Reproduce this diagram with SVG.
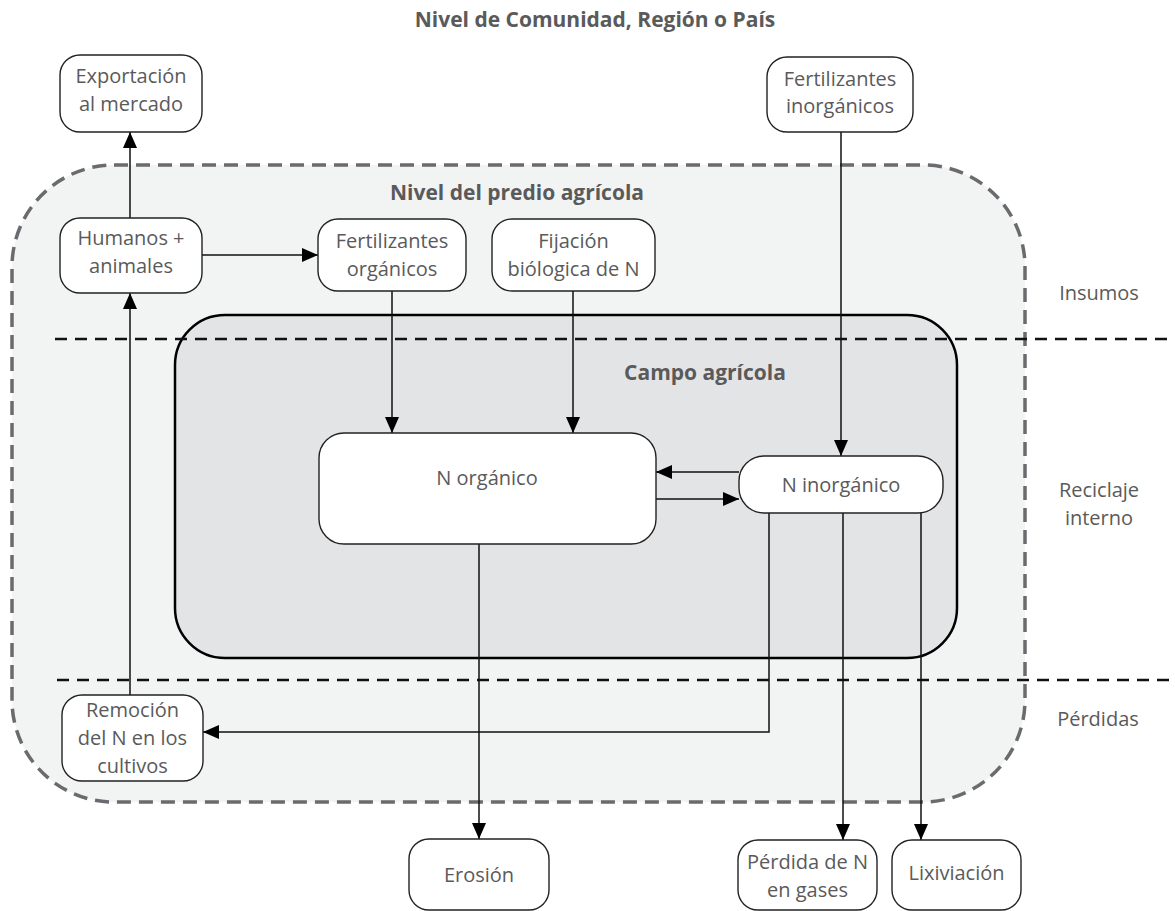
<svg xmlns="http://www.w3.org/2000/svg" width="1175" height="911" viewBox="0 0 1175 911">
<defs>
<marker id="ah" markerUnits="userSpaceOnUse" markerWidth="16" markerHeight="14" viewBox="0 0 16 14" refX="16" refY="7" orient="auto">
<path d="M0,0 L16,7 L0,14 Z" fill="#000"/>
</marker>
<style>
.t{font-family:"Open Sans","Liberation Sans",sans-serif;font-size:20px;fill:#5a5a5a;text-anchor:middle}
.b{font-family:"Open Sans","Liberation Sans",sans-serif;font-size:21px;font-weight:bold;fill:#5a5a5a;text-anchor:middle}
.n{fill:#fff;stroke:#222;stroke-width:1.4}
.c{fill:none;stroke:#111;stroke-width:1.5}
.a{marker-end:url(#ah)}
.h{stroke:#111;stroke-width:2.5;stroke-dasharray:12 8;fill:none}
</style>
</defs>
<text class="b" x="595" y="27">Nivel de Comunidad, Región o País</text>
<g id="farm">
<rect x="12" y="165" width="1013" height="637" rx="102" ry="102" fill="#f2f3f3" stroke="#6b6b6f" stroke-width="3.5" stroke-dasharray="14 8"/>
<text class="b" x="517" y="200">Nivel del predio agrícola</text>
</g>
<g id="field">
<rect x="175" y="315" width="782" height="343" rx="50" ry="50" fill="#e3e4e6" stroke="#000" stroke-width="2.5"/>
<text class="b" x="705" y="380">Campo agrícola</text>
</g>
<g id="bands">
<line class="h" x1="55" y1="339" x2="1175" y2="339"/>
<line class="h" x1="57" y1="680" x2="1175" y2="680"/>
<text class="t" x="1099" y="300">Insumos</text>
<text class="t" x="1099" y="497">Reciclaje</text>
<text class="t" x="1099" y="525">interno</text>
<text class="t" x="1098" y="726">Pérdidas</text>
</g>
<g id="connectors">
<line class="c a" x1="130" y1="218" x2="130" y2="132"/>
<line class="c a" x1="202" y1="255" x2="318" y2="255"/>
<line class="c a" x1="130" y1="695" x2="130" y2="293"/>
<line class="c a" x1="392" y1="291" x2="392" y2="433"/>
<line class="c a" x1="573" y1="291" x2="573" y2="433"/>
<line class="c a" x1="841" y1="132" x2="841" y2="456"/>
<line class="c a" x1="739" y1="472" x2="656" y2="472"/>
<line class="c a" x1="656" y1="499" x2="739" y2="499"/>
<line class="c a" x1="479" y1="544" x2="479" y2="839"/>
<polyline class="c a" points="769,513 769,732 203,732"/>
<line class="c a" x1="843" y1="513" x2="843" y2="840"/>
<line class="c a" x1="921" y1="513" x2="921" y2="840"/>
</g>
<g id="export">
<rect class="n" x="60" y="55" width="142" height="77" rx="20"/>
<text class="t" x="131" y="83">Exportación</text>
<text class="t" x="131" y="111">al mercado</text>
</g>
<g id="humans">
<rect class="n" x="60" y="218" width="142" height="75" rx="20"/>
<text class="t" x="131" y="245">Humanos +</text>
<text class="t" x="131" y="273">animales</text>
</g>
<g id="fert-org">
<rect class="n" x="318" y="219" width="148" height="72" rx="20"/>
<text class="t" x="392" y="248">Fertilizantes</text>
<text class="t" x="392" y="276">orgánicos</text>
</g>
<g id="fixation">
<rect class="n" x="492" y="219" width="163" height="72" rx="20"/>
<text class="t" x="573.5" y="248">Fijación</text>
<text class="t" x="573.5" y="276">biólogica de N</text>
</g>
<g id="fert-inorg">
<rect class="n" x="767" y="57" width="146" height="75" rx="20"/>
<text class="t" x="840" y="86">Fertilizantes</text>
<text class="t" x="840" y="113">inorgánicos</text>
</g>
<g id="n-org">
<rect class="n" x="319" y="433" width="337" height="111" rx="25"/>
<text class="t" x="487" y="485">N orgánico</text>
</g>
<g id="n-inorg">
<rect class="n" x="739" y="456" width="204" height="57" rx="25"/>
<text class="t" x="841" y="492">N inorgánico</text>
</g>
<g id="removal">
<rect class="n" x="62" y="695" width="141" height="86" rx="20"/>
<text class="t" x="132.5" y="717">Remoción</text>
<text class="t" x="132.5" y="745">del N en los</text>
<text class="t" x="132.5" y="773">cultivos</text>
</g>
<g id="erosion">
<rect class="n" x="409" y="839" width="140" height="71" rx="20"/>
<text class="t" x="479" y="882">Erosión</text>
</g>
<g id="gas-loss">
<rect class="n" x="738" y="840" width="139" height="70" rx="20"/>
<text class="t" x="807.5" y="869">Pérdida de N</text>
<text class="t" x="807.5" y="897">en gases</text>
</g>
<g id="leaching">
<rect class="n" x="892" y="840" width="129" height="70" rx="20"/>
<text class="t" x="956.5" y="880">Lixiviación</text>
</g>
</svg>
